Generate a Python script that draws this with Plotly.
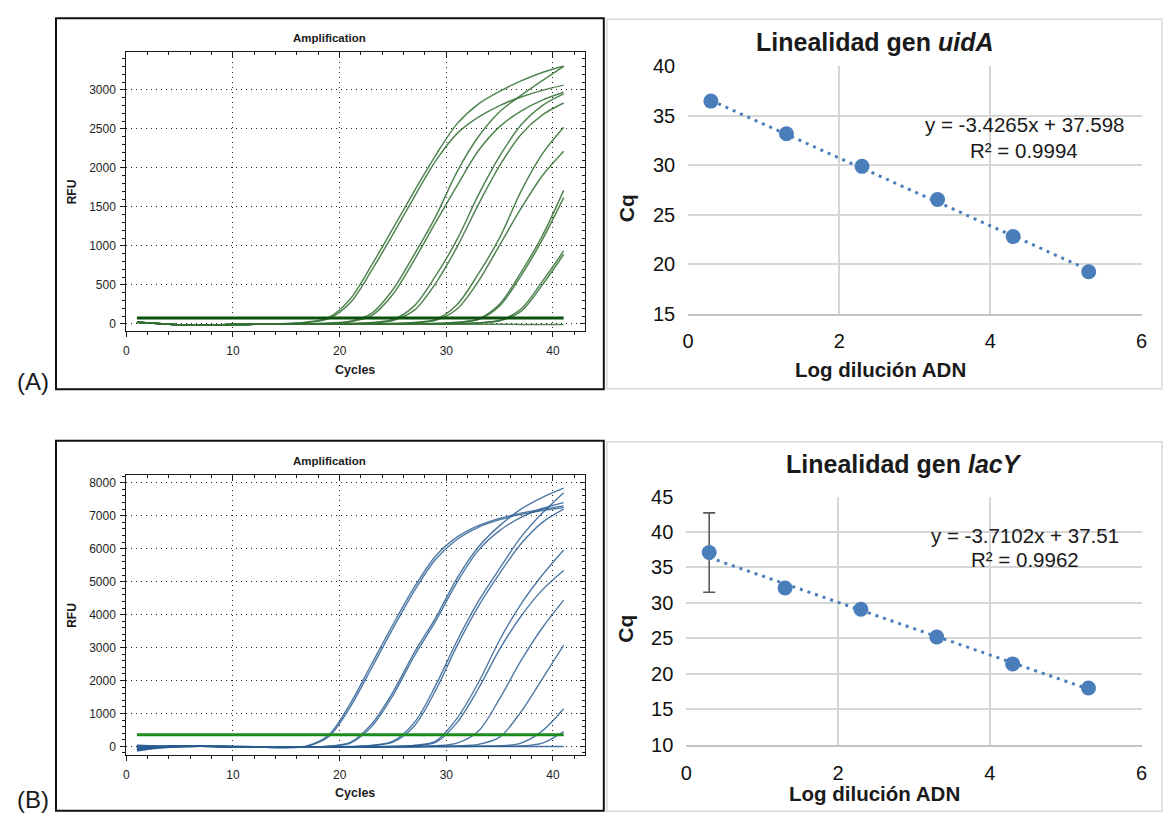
import plotly.graph_objects as go

W, H = 1171, 827

# ---------------- qPCR amplification data (RFU read every second cycle) ----------------
cycles = [1, 3, 5, 7, 9, 11, 13, 15, 17, 19, 21, 23, 25, 27, 29, 31, 33, 35, 37, 39, 41]

uida_rfu_01 = [22, 5, -12, -15, -12, -8, -4, 3, 23, 83, 320, 753, 1225, 1703, 2162, 2565, 2819, 2982, 3116, 3225, 3303]
uida_rfu_02 = [20, 4, -12, -14, -11, -8, -5, 2, 19, 68, 270, 685, 1150, 1630, 2090, 2440, 2650, 2800, 2910, 2995, 3062]
uida_rfu_03 = [22, 5, -12, -15, -12, -8, -5, -3, 1, 10, 34, 135, 440, 890, 1375, 1950, 2400, 2720, 2930, 3120, 3303]
uida_rfu_04 = [21, 5, -11, -14, -11, -7, -5, -3, 0, 8, 28, 105, 380, 820, 1300, 1770, 2220, 2530, 2730, 2870, 2970]
uida_rfu_05 = [22, 5, -12, -15, -12, -8, -5, -3, -1, 0, 4, 17, 55, 230, 615, 1080, 1650, 2150, 2550, 2800, 2950]
uida_rfu_06 = [20, 4, -12, -14, -11, -8, -5, -3, -1, 0, 3, 13, 43, 175, 520, 985, 1530, 2030, 2430, 2680, 2833]
uida_rfu_07 = [22, 5, -12, -15, -12, -8, -5, -3, -1, 0, 0, 1, 4, 18, 55, 245, 640, 1105, 1700, 2180, 2522]
uida_rfu_08 = [21, 5, -11, -14, -11, -8, -5, -3, -1, 0, 0, 1, 3, 14, 45, 190, 545, 1010, 1480, 1900, 2214]
uida_rfu_09 = [22, 5, -12, -15, -12, -8, -5, -3, -1, 0, 0, 0, 1, 2, 4, 19, 62, 255, 660, 1130, 1712]
uida_rfu_10 = [21, 5, -11, -14, -11, -8, -5, -3, -1, 0, 0, 0, 1, 1, 3, 17, 55, 230, 615, 1080, 1620]
uida_rfu_11 = [22, 5, -12, -15, -12, -8, -5, -3, -1, 0, 0, 0, 0, 0, 1, 3, 14, 45, 190, 545, 935]
uida_rfu_12 = [21, 5, -11, -14, -11, -8, -5, -3, -1, 0, 0, 0, 0, 0, 1, 2, 12, 40, 160, 500, 893]
uida_rfu_ntc = [20, 4, -12, -14, -11, -8, -5, -3, -2, -1, -1, -2, -3, -4, -5, -5, -6, -6, -7, -7, -8]
uida_threshold = 75

lacy_rfu_01 = [-120, -40, -10, 0, -10, -20, -30, -35, 20, 350, 1300, 2500, 3700, 4830, 5780, 6350, 6700, 6920, 7080, 7200, 7300]
lacy_rfu_02 = [-60, -20, 10, 5, -5, -15, -25, -40, 10, 300, 1200, 2380, 3580, 4720, 5680, 6280, 6650, 6880, 7040, 7160, 7250]
lacy_rfu_03 = [-80, -30, 0, 5, -5, -10, -20, -30, -25, 10, 120, 680, 1650, 2850, 3900, 5100, 6050, 6700, 7200, 7560, 7840]
lacy_rfu_04 = [-30, -10, 20, 10, 0, -10, -20, -30, -28, 5, 100, 600, 1550, 2750, 3800, 4980, 5950, 6550, 6950, 7220, 7400]
lacy_rfu_05 = [-100, -40, -10, 0, -10, -15, -20, -20, -20, -15, -5, 30, 160, 720, 1850, 3200, 4400, 5400, 6350, 7080, 7700]
lacy_rfu_06 = [10, 0, 10, 5, -5, -10, -15, -20, -20, -15, -8, 25, 130, 620, 1700, 3050, 4250, 5250, 6150, 6800, 7200]
lacy_rfu_07 = [-140, -50, -15, 0, -10, -15, -20, -25, -25, -20, -15, -10, 5, 30, 160, 850, 1930, 3230, 4320, 5200, 5960]
lacy_rfu_08 = [30, 10, 15, 5, -5, -10, -15, -20, -20, -20, -15, -10, 0, 25, 120, 720, 1750, 2950, 3950, 4750, 5340]
lacy_rfu_09 = [-50, -20, 5, 0, -5, -10, -15, -20, -20, -20, -15, -10, -10, -5, 20, 100, 460, 1450, 2600, 3600, 4440]
lacy_rfu_10 = [-20, -10, 10, 5, 0, -5, -10, -15, -15, -15, -15, -10, -10, -5, 0, 15, 60, 280, 1050, 2050, 3070]
lacy_rfu_11 = [-90, -30, 0, 5, -5, -10, -15, -15, -15, -15, -15, -10, -10, -10, -5, 0, 5, 15, 100, 470, 1140]
lacy_rfu_12 = [40, 15, 10, 5, 0, -5, -10, -10, -10, -10, -10, -10, -10, -10, -5, -5, 0, 5, 10, 100, 450]
lacy_rfu_ntc = [-50, -20, 0, 0, -5, -10, -10, -10, -10, -10, -10, -10, -10, -5, -5, -5, -5, -5, -5, -5, -5]
lacy_threshold = 350

# ---------------- standard curves ----------------
log_dilution = [0.301, 1.301, 2.301, 3.301, 4.301, 5.301]
uida_cq = [36.5, 33.2, 29.9, 26.55, 22.8, 19.25]
lacy_cq = [37.1, 32.1, 29.1, 25.2, 21.4, 18.0]
lacy_cq_err = [5.6, None, None, None, None, None]
uida_slope, uida_intercept, uida_r2 = -3.4265, 37.598, 0.9994
lacy_slope, lacy_intercept, lacy_r2 = -3.7102, 37.51, 0.9962


def px_x(px):
    return px / W


def px_y(py):
    return 1 - py / H


fig = go.Figure()

GREEN_CURVE = "rgba(52,112,52,0.85)"
BLUE_CURVE = "rgba(40,92,145,0.82)"

uida_curves = [uida_rfu_01, uida_rfu_02, uida_rfu_03, uida_rfu_04, uida_rfu_05, uida_rfu_06,
               uida_rfu_07, uida_rfu_08, uida_rfu_09, uida_rfu_10, uida_rfu_11, uida_rfu_12, uida_rfu_ntc]
lacy_curves = [lacy_rfu_01, lacy_rfu_02, lacy_rfu_03, lacy_rfu_04, lacy_rfu_05, lacy_rfu_06,
               lacy_rfu_07, lacy_rfu_08, lacy_rfu_09, lacy_rfu_10, lacy_rfu_11, lacy_rfu_12, lacy_rfu_ntc]

for rfu in uida_curves:
    fig.add_trace(go.Scatter(x=cycles, y=rfu, mode="lines", xaxis="x", yaxis="y",
                             line=dict(color=GREEN_CURVE, width=1.5, shape="spline", smoothing=0.9),
                             hoverinfo="skip", showlegend=False))
fig.add_trace(go.Scatter(x=[cycles[0], cycles[-1]], y=[uida_threshold, uida_threshold], mode="lines",
                         xaxis="x", yaxis="y", line=dict(color="#0d4f0d", width=3),
                         hoverinfo="skip", showlegend=False))

for rfu in lacy_curves:
    fig.add_trace(go.Scatter(x=cycles, y=rfu, mode="lines", xaxis="x2", yaxis="y2",
                             line=dict(color=BLUE_CURVE, width=1.4, shape="spline", smoothing=0.9),
                             hoverinfo="skip", showlegend=False))
fig.add_trace(go.Scatter(x=[cycles[0], cycles[-1]], y=[lacy_threshold, lacy_threshold], mode="lines",
                         xaxis="x2", yaxis="y2", line=dict(color="#1c8c1c", width=3),
                         hoverinfo="skip", showlegend=False))

# empty traces so the inner-tick overlay axes get drawn
fig.add_trace(go.Scatter(x=[None], y=[None], xaxis="x5", yaxis="y5", showlegend=False, hoverinfo="skip"))
fig.add_trace(go.Scatter(x=[None], y=[None], xaxis="x6", yaxis="y6", showlegend=False, hoverinfo="skip"))

BLUE_PT = "#4a7ebb"
x_fit = [log_dilution[0], log_dilution[-1]]
fig.add_trace(go.Scatter(x=x_fit, y=[uida_slope * v + uida_intercept for v in x_fit], mode="lines",
                         xaxis="x3", yaxis="y3", line=dict(color=BLUE_PT, width=3, dash="3px,5px"),
                         hoverinfo="skip", showlegend=False))
fig.add_trace(go.Scatter(x=log_dilution, y=uida_cq, mode="markers", xaxis="x3", yaxis="y3",
                         marker=dict(color=BLUE_PT, size=15), hoverinfo="skip", showlegend=False))
fig.add_trace(go.Scatter(x=x_fit, y=[lacy_slope * v + lacy_intercept for v in x_fit], mode="lines",
                         xaxis="x4", yaxis="y4", line=dict(color=BLUE_PT, width=3, dash="3px,5px"),
                         hoverinfo="skip", showlegend=False))
fig.add_trace(go.Scatter(x=log_dilution, y=lacy_cq, mode="markers", xaxis="x4", yaxis="y4",
                         marker=dict(color=BLUE_PT, size=15),
                         error_y=dict(type="data", array=lacy_cq_err, symmetric=True,
                                      color="#595959", thickness=1.6, width=6),
                         hoverinfo="skip", showlegend=False))

INK = "#1a1a1a"
FONT = "Liberation Sans, Arial, sans-serif"


def amp_x(domain_y_anchor):
    return dict(domain=[px_x(121.5), px_x(585)], range=[0, 43], anchor=domain_y_anchor,
                tick0=0, dtick=10, ticks="outside", ticklen=5, tickcolor=INK, tickwidth=1,
                showline=True, linecolor=INK, linewidth=1, mirror=True,
                showgrid=True, gridcolor="#222222", gridwidth=1, griddash="1px,4px", zeroline=False,
                tickfont=dict(size=12, color="#222222", family=FONT), ticklabelstandoff=3,
                minor=dict(dtick=2, ticks="outside", ticklen=3, tickcolor=INK, showgrid=False))


def amp_y(dom, rng, dtick, minor, anchor):
    return dict(domain=dom, range=rng, anchor=anchor, tick0=0, dtick=dtick,
                ticks="outside", ticklen=5, tickcolor=INK, tickwidth=1,
                showline=True, linecolor=INK, linewidth=1, mirror=True,
                showgrid=True, gridcolor="#222222", gridwidth=1, griddash="1px,4px", zeroline=False,
                tickfont=dict(size=12, color="#222222", family=FONT), ticklabelstandoff=2,
                minor=dict(dtick=minor, ticks="outside", ticklen=3, tickcolor=INK, showgrid=False))


def inner_x(over, anchor):
    return dict(overlaying=over, side="top", anchor=anchor, range=[0, 43], tick0=0, dtick=10,
                ticks="inside", ticklen=5, tickcolor=INK, showticklabels=False, showgrid=False,
                showline=False, zeroline=False,
                minor=dict(dtick=2, ticks="inside", ticklen=3, tickcolor=INK, showgrid=False))


def inner_y(over, anchor, rng, dtick, minor):
    return dict(overlaying=over, side="right", anchor=anchor, range=rng, tick0=0, dtick=dtick,
                ticks="inside", ticklen=5, tickcolor=INK, showticklabels=False, showgrid=False,
                showline=False, zeroline=False,
                minor=dict(dtick=minor, ticks="inside", ticklen=3, tickcolor=INK, showgrid=False))


def lin_x(dom, anchor, standoff):
    return dict(domain=dom, range=[0, 6], dtick=2, anchor=anchor, showgrid=True, gridcolor="#d6d6d6",
                gridwidth=1.8, showline=True, linecolor="#c4c4c4", linewidth=1.8, zeroline=False,
                ticks="", ticklabelstandoff=standoff, tickfont=dict(size=20, color="#111111", family=FONT))


def lin_y(dom, rng, anchor):
    return dict(domain=dom, range=rng, dtick=5, anchor=anchor, showgrid=True, gridcolor="#d6d6d6",
                gridwidth=1.8, showline=False, zeroline=False, ticks="", ticklabelstandoff=12,
                tickfont=dict(size=20, color="#111111", family=FONT))


a_dom = [px_y(329), px_y(42.6)]
b_dom = [px_y(764.6), px_y(477)]

fig.update_layout(
    width=W, height=H, margin=dict(l=0, r=0, t=0, b=0),
    paper_bgcolor="white", plot_bgcolor="white", showlegend=False,
    font=dict(family=FONT, color=INK),
    xaxis=amp_x("y"),
    yaxis=amp_y(a_dom, [-95, 3481], 500, 100, "x"),
    xaxis2=amp_x("y2"),
    yaxis2=amp_y(b_dom, [-269, 8227], 1000, 200, "x2"),
    xaxis5=inner_x("x", "y5"),
    yaxis5=inner_y("y", "x5", [-95, 3481], 500, 100),
    xaxis6=inner_x("x2", "y6"),
    yaxis6=inner_y("y2", "x6", [-269, 8227], 1000, 200),
    xaxis3=lin_x([px_x(689.2), px_x(1147.3)], "y3", 8),
    yaxis3=lin_y([px_y(311), px_y(57)], [15, 40], "x3"),
    xaxis4=lin_x([px_x(687.4), px_x(1147.3)], "y4", 9),
    yaxis4=lin_y([px_y(753.8), px_y(498.8)], [10, 45], "x4"),
)

# panel frames
shapes = [
    dict(type="rect", xref="paper", yref="paper", x0=px_x(50.5), x1=px_x(604), y0=px_y(388.5), y1=px_y(7.5),
         line=dict(color="#111111", width=2)),
    dict(type="rect", xref="paper", yref="paper", x0=px_x(50.5), x1=px_x(604), y0=px_y(821.5), y1=px_y(441.5),
         line=dict(color="#111111", width=2)),
    dict(type="rect", xref="paper", yref="paper", x0=px_x(607), x1=px_x(1168), y0=px_y(388), y1=px_y(8.5),
         line=dict(color="#d9d9d9", width=1.5)),
    dict(type="rect", xref="paper", yref="paper", x0=px_x(607), x1=px_x(1168), y0=px_y(822), y1=px_y(442.5),
         line=dict(color="#d9d9d9", width=1.5)),
]
fig.update_layout(shapes=shapes)


def label(text, x, y, size, bold=False, angle=0):
    t = text
    if bold:
        t = "<b>" + t + "</b>"
    fig.add_annotation(text=t, x=px_x(x), y=px_y(y), xref="paper", yref="paper", showarrow=False,
                       xanchor="center", yanchor="middle", textangle=angle, borderpad=0,
                       font=dict(size=size, family=FONT, color=INK))


# amplification panels
label("Amplification", 327, 28, 11.5, bold=True)
label("RFU", 67, 186, 12, bold=True, angle=-90)
label("Cycles", 353, 369, 12.5, bold=True)
label("Amplification", 327, 462, 11.5, bold=True)
label("RFU", 67, 621, 12, bold=True, angle=-90)
label("Cycles", 353, 803, 12.5, bold=True)
label("(A)", 27, 381, 24)
label("(B)", 27, 810, 24)

# standard-curve panels
label("Linealidad gen <i>uidA</i>", 878, 32, 25, bold=True)
label("Cq", 627, 203, 21, bold=True, angle=-90)
label("Log dilución ADN", 884, 368, 20.5, bold=True)
label(f"y = {uida_slope}x + {uida_intercept}", 1029, 117, 20.5)
label(f"R² = {uida_r2}", 1029, 143, 20.5)

label("Linealidad gen <i>lacY</i>", 907, 465, 25, bold=True)
label("Cq", 626, 635, 21, bold=True, angle=-90)
label("Log dilución ADN", 877, 804, 20.5, bold=True)
label(f"y = {lacy_slope}x + {lacy_intercept}", 1030, 539, 20.5)
label(f"R² = {lacy_r2}", 1030, 564, 20.5)

fig.write_html("out.html")
